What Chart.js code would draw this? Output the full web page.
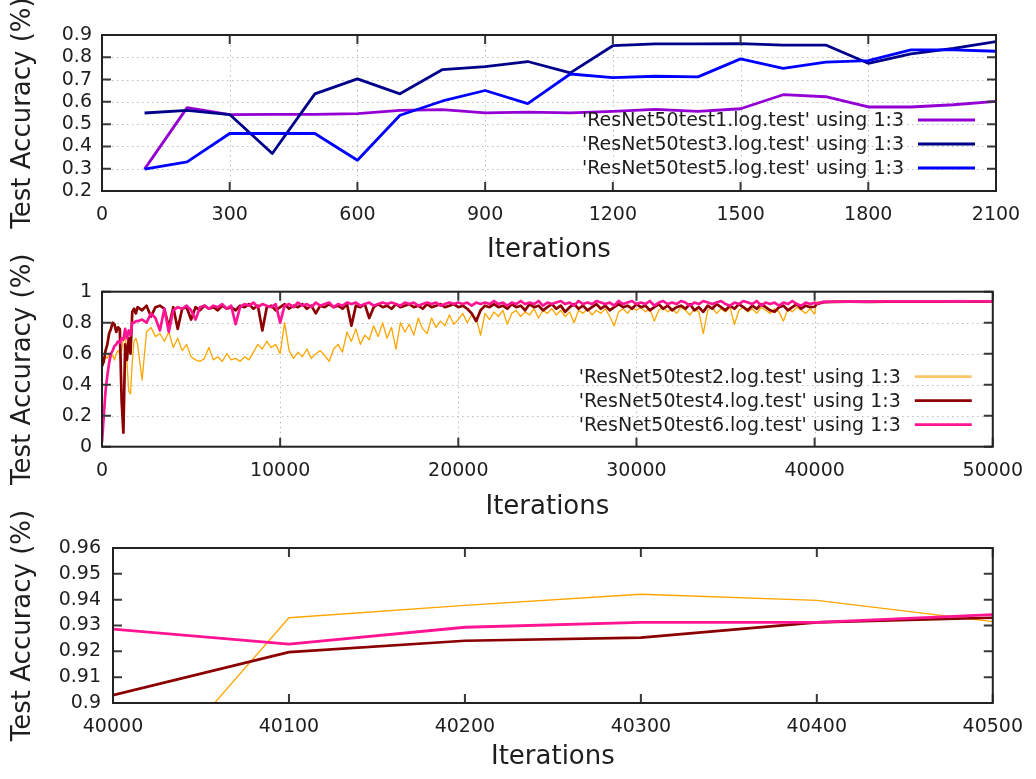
<!DOCTYPE html>
<html>
<head>
<meta charset="utf-8">
<title>ResNet50 test accuracy</title>
<script src="https://cdn.jsdelivr.net/npm/chart.js@4.4.1/dist/chart.umd.min.js"></script>
<style>
  html, body { margin: 0; padding: 0; background: #fff; }
  #wrap { position: relative; width: 1036px; height: 779px; overflow: hidden; }
  canvas { position: absolute; left: 0; }
</style>
</head>
<body>
<div id="wrap">
  <canvas id="c1" width="1036" height="270" style="top:0px"></canvas>
  <canvas id="c2" width="1036" height="275" style="top:250px"></canvas>
  <canvas id="c3" width="1036" height="274" style="top:505px"></canvas>
</div>
<script>
// ---- top panel: short runs ----
const shortIters = [100,200,300,400,500,600,700,800,900,1000,1100,1200,1300,1400,1500,1600,1700,1800,1900,2000,2100];
const test1 = [0.298,0.574,0.543,0.544,0.544,0.547,0.562,0.565,0.551,0.554,0.551,0.557,0.566,0.557,0.569,0.632,0.623,0.577,0.577,0.587,0.602];
const test3 = [0.55,0.562,0.543,0.368,0.636,0.703,0.636,0.745,0.758,0.781,0.73,0.852,0.86,0.86,0.861,0.855,0.855,0.773,0.815,0.84,0.87];
const test5 = [0.298,0.331,0.458,0.458,0.458,0.338,0.54,0.604,0.651,0.592,0.725,0.709,0.715,0.712,0.793,0.75,0.778,0.785,0.833,0.833,0.827];

// ---- middle panel: long runs ----
const longIters = [
  0,100,200,300,400,500,600,700,800,900,1000,1100,1200,1300,1400,1500,1600,1700,1800,1900,2000,
  2250,2500,2750,3000,3250,3500,3750,4000,
  4250,4500,4750,5000,5250,5500,5750,6000,
  6250,6500,6750,7000,7250,7500,7750,8000,
  8250,8500,8750,9000,9250,9500,9750,10000,
  10250,10500,10750,11000,11250,11500,11750,12000,
  12250,12500,12750,13000,13250,13500,13750,14000,
  14250,14500,14750,15000,15250,15500,15750,16000,
  16250,16500,16750,17000,17250,17500,17750,18000,
  18250,18500,18750,19000,19250,19500,19750,20000,
  20250,20500,20750,21000,21250,21500,21750,22000,
  22250,22500,22750,23000,23250,23500,23750,24000,
  24250,24500,24750,25000,25250,25500,25750,26000,
  26250,26500,26750,27000,27250,27500,27750,28000,
  28250,28500,28750,29000,29250,29500,29750,30000,
  30250,30500,30750,31000,31250,31500,31750,32000,
  32250,32500,32750,33000,33250,33500,33750,34000,
  34250,34500,34750,35000,35250,35500,35750,36000,
  36250,36500,36750,37000,37250,37500,37750,38000,
  38250,38500,38750,39000,39250,39500,39750,40000,
  40100,40500,41000,42000,43000,44000,45000,46000,47000,48000,49000,50000
];
const test2 = [
  0.51,0.55,0.58,0.57,0.6,0.58,0.59,0.56,0.6,0.62,0.6,0.62,0.7,0.75,0.55,0.36,0.34,0.55,0.68,0.7,0.66,
  0.43,0.74,0.77,0.71,0.73,0.68,0.74,0.64,
  0.7,0.62,0.66,0.58,0.56,0.55,0.57,0.64,
  0.56,0.58,0.55,0.6,0.56,0.57,0.55,0.58,
  0.56,0.61,0.66,0.63,0.68,0.64,0.66,0.6,
  0.8,0.62,0.57,0.61,0.58,0.63,0.57,0.6,
  0.62,0.59,0.55,0.63,0.66,0.61,0.74,0.68,
  0.76,0.66,0.72,0.69,0.78,0.71,0.8,0.7,
  0.77,0.63,0.8,0.74,0.79,0.72,0.83,0.76,
  0.73,0.83,0.77,0.81,0.78,0.85,0.79,0.82,
  0.86,0.8,0.85,0.83,0.72,0.86,0.82,0.87,
  0.84,0.88,0.79,0.86,0.88,0.84,0.87,0.85,
  0.89,0.83,0.88,0.86,0.89,0.85,0.88,0.84,
  0.87,0.8,0.88,0.86,0.89,0.85,0.88,0.86,
  0.89,0.84,0.78,0.87,0.89,0.86,0.9,0.88,
  0.9,0.87,0.89,0.81,0.88,0.9,0.87,0.89,
  0.86,0.9,0.88,0.85,0.89,0.87,0.73,0.88,
  0.9,0.86,0.89,0.87,0.9,0.79,0.88,0.9,
  0.87,0.89,0.86,0.9,0.88,0.86,0.89,0.87,
  0.81,0.89,0.87,0.9,0.88,0.86,0.89,0.855,
  0.933,0.9315,0.938,0.94,0.937,0.94,0.939,0.941,0.938,0.94,0.939,0.94
];
const test4 = [
  0.52,0.55,0.62,0.66,0.73,0.76,0.8,0.79,0.74,0.77,0.76,0.3,0.09,0.66,0.56,0.7,0.6,0.87,0.89,0.86,0.9,
  0.88,0.91,0.84,0.9,0.91,0.89,0.77,0.9,
  0.76,0.89,0.9,0.82,0.9,0.88,0.91,0.89,
  0.9,0.88,0.91,0.89,0.9,0.88,0.91,0.9,
  0.92,0.89,0.91,0.75,0.9,0.91,0.88,0.9,
  0.92,0.89,0.91,0.9,0.92,0.89,0.91,0.86,
  0.91,0.9,0.92,0.9,0.91,0.89,0.92,0.78,
  0.91,0.9,0.92,0.83,0.9,0.92,0.9,0.91,
  0.89,0.92,0.9,0.91,0.92,0.9,0.91,0.89,
  0.92,0.9,0.91,0.92,0.9,0.91,0.92,0.9,
  0.91,0.89,0.86,0.81,0.88,0.91,0.9,0.92,
  0.9,0.91,0.89,0.92,0.9,0.91,0.88,0.92,
  0.9,0.91,0.88,0.9,0.92,0.89,0.91,0.87,
  0.9,0.92,0.89,0.91,0.88,0.9,0.92,0.89,
  0.91,0.88,0.9,0.92,0.9,0.91,0.89,0.92,
  0.9,0.91,0.88,0.9,0.92,0.89,0.91,0.88,
  0.9,0.91,0.89,0.92,0.88,0.9,0.87,0.91,
  0.89,0.92,0.9,0.88,0.91,0.89,0.92,0.9,
  0.88,0.91,0.89,0.92,0.9,0.88,0.87,0.9,
  0.91,0.88,0.9,0.92,0.89,0.91,0.9,0.903,
  0.9197,0.933,0.934,0.935,0.934,0.936,0.935,0.937,0.936,0.937,0.936,0.937
];
const test6 = [
  0.03,0.2,0.36,0.46,0.54,0.6,0.62,0.65,0.66,0.68,0.67,0.7,0.69,0.76,0.7,0.75,0.72,0.8,0.8,0.81,0.81,
  0.82,0.8,0.86,0.83,0.75,0.89,0.74,0.88,
  0.9,0.89,0.91,0.88,0.82,0.9,0.91,0.89,
  0.91,0.9,0.92,0.89,0.91,0.79,0.9,0.92,
  0.91,0.93,0.9,0.92,0.91,0.9,0.92,0.8,
  0.91,0.92,0.9,0.93,0.91,0.92,0.9,0.93,
  0.91,0.92,0.93,0.9,0.92,0.91,0.93,0.92,
  0.93,0.91,0.92,0.93,0.91,0.92,0.93,0.92,
  0.93,0.92,0.91,0.93,0.92,0.93,0.91,0.92,
  0.93,0.92,0.93,0.91,0.92,0.93,0.92,0.93,
  0.92,0.93,0.91,0.93,0.92,0.93,0.92,0.94,
  0.92,0.93,0.91,0.93,0.92,0.94,0.92,0.93,
  0.92,0.94,0.91,0.93,0.92,0.93,0.94,0.92,
  0.93,0.91,0.94,0.92,0.93,0.92,0.94,0.93,
  0.92,0.93,0.91,0.94,0.92,0.93,0.94,0.92,
  0.93,0.92,0.94,0.91,0.93,0.94,0.92,0.93,
  0.92,0.94,0.93,0.91,0.93,0.92,0.94,0.93,
  0.92,0.93,0.94,0.92,0.91,0.93,0.92,0.94,
  0.93,0.92,0.94,0.91,0.93,0.92,0.93,0.91,
  0.93,0.92,0.94,0.92,0.91,0.93,0.92,0.929,
  0.9228,0.9342,0.935,0.937,0.936,0.938,0.937,0.938,0.937,0.938,0.938,0.938
];

// ---- bottom panel: zoom on 40000..40500 ----
const zoomIters = [40000,40100,40200,40300,40400,40500];
const zoom2 = [0.855,0.933,0.9378,0.9421,0.9397,0.9315];
const zoom4 = [0.903,0.9197,0.9241,0.9253,0.9312,0.933];
const zoom6 = [0.9286,0.9228,0.9293,0.9312,0.9312,0.9342];

// tick labels
const topXTicks = [0,300,600,900,1200,1500,1800,2100];
const topYTicks = [0.2,0.3,0.4,0.5,0.6,0.7,0.8,0.9];
const midXTicks = [0,10000,20000,30000,40000,50000];
const midYTicks = [0,0.2,0.4,0.6,0.8,1];
const lowXTicks = [40000,40100,40200,40300,40400,40500];
const lowYTicks = [0.9,0.91,0.92,0.93,0.94,0.95,0.96];

const ink = '#1e1e1e';
Chart.defaults.font.family = '"DejaVu Sans", sans-serif';
Chart.defaults.animation = false;

function pts(xs, ys) {
  return xs.map((x, i) => ({x: x, y: ys[i]}));
}

// gnuplot-like frame: dotted grid, inward mirrored ticks, border, key at top right
const gnuFrame = {
  id: 'gnuFrame',
  beforeDatasetsDraw(chart, args, opts) {
    if (!opts.grid) return;
    const {ctx, chartArea: a, scales: {x, y}} = chart;
    ctx.save();
    ctx.strokeStyle = '#bdbdbd';
    ctx.lineWidth = 1;
    ctx.setLineDash([1.5, 3.5]);
    x.ticks.forEach((t, i) => {
      if (i === 0 || i === x.ticks.length - 1) return;
      const px = Math.round(x.getPixelForValue(t.value)) + 0.5;
      ctx.beginPath(); ctx.moveTo(px, a.top); ctx.lineTo(px, a.bottom); ctx.stroke();
    });
    y.ticks.forEach((t, i) => {
      if (i === 0 || i === y.ticks.length - 1) return;
      const py = Math.round(y.getPixelForValue(t.value)) + 0.5;
      ctx.beginPath(); ctx.moveTo(a.left, py); ctx.lineTo(a.right, py); ctx.stroke();
    });
    ctx.restore();
  },
  afterDatasetsDraw(chart, args, opts) {
    const {ctx, chartArea: a, scales: {x, y}} = chart;
    const tl = 9;
    ctx.save();
    ctx.strokeStyle = '#383838';
    ctx.lineWidth = 2;
    ctx.beginPath();
    x.ticks.forEach(t => {
      const px = x.getPixelForValue(t.value);
      ctx.moveTo(px, a.bottom); ctx.lineTo(px, a.bottom - tl);
      ctx.moveTo(px, a.top); ctx.lineTo(px, a.top + tl);
    });
    y.ticks.forEach(t => {
      const py = y.getPixelForValue(t.value);
      ctx.moveTo(a.left, py); ctx.lineTo(a.left + tl, py);
      ctx.moveTo(a.right, py); ctx.lineTo(a.right - tl, py);
    });
    ctx.stroke();
    ctx.strokeStyle = '#222';
    ctx.strokeRect(a.left, a.top, a.right - a.left, a.bottom - a.top);

    if (opts.legend) {
      ctx.font = '19px "DejaVu Sans"';
      ctx.textAlign = 'right';
      ctx.textBaseline = 'middle';
      ctx.fillStyle = ink;
      chart.data.datasets.forEach((ds, i) => {
        const yy = a.top + 85 + i * 24;
        ctx.fillText(ds.label, a.right - 92, yy + 1);
        ctx.strokeStyle = ds.keyColor || ds.borderColor;
        ctx.lineWidth = ds.keyWidth || ds.borderWidth;
        ctx.beginPath(); ctx.moveTo(a.right - 78, yy); ctx.lineTo(a.right - 21, yy); ctx.stroke();
      });
    }
    ctx.restore();
  }
};

function frameScales(o) {
  return {
    x: {
      type: 'linear',
      min: o.xTicks[0],
      max: o.xTicks[o.xTicks.length - 1],
      afterBuildTicks: s => { s.ticks = o.xTicks.map(v => ({value: v})); },
      afterFit: s => { s.height = o.xHeight; },
      grid: {display: false, drawTicks: false},
      border: {display: false},
      ticks: {autoSkip: false, maxRotation: 0, padding: 13, color: ink, font: {size: 19}, callback: v => String(v)},
      title: {display: true, text: 'Iterations', color: ink, font: {size: 26}, padding: {top: 0, bottom: o.titlePad}}
    },
    y: {
      type: 'linear',
      min: o.yTicks[0],
      max: o.yTicks[o.yTicks.length - 1],
      afterBuildTicks: s => { s.ticks = o.yTicks.map(v => ({value: v})); },
      afterFit: s => { s.width = o.yWidth; },
      grid: {display: false, drawTicks: false},
      border: {display: false},
      ticks: {autoSkip: false, padding: o.yPad, color: ink, font: {size: 19}, callback: v => String(v)},
      title: {display: true, text: 'Test Accuracy (%)', color: ink, font: {size: 26}, padding: {top: 8, bottom: 0}}
    }
  };
}

function line(label, xs, ys, color, width, order, extra) {
  return Object.assign({
    label: label,
    data: pts(xs, ys),
    borderColor: color,
    backgroundColor: color,
    borderWidth: width,
    borderJoinStyle: 'round',
    pointRadius: 0,
    tension: 0,
    fill: false,
    order: order
  }, extra || {});
}

const commonPlugins = {legend: {display: false}, tooltip: {enabled: false}};

const chart1 = new Chart(document.getElementById('c1'), {
  type: 'line',
  data: {
    datasets: [
      line("'ResNet50test1.log.test' using 1:3", shortIters, test1, '#9400d3', 2.8, 3),
      line("'ResNet50test3.log.test' using 1:3", shortIters, test3, '#00008b', 2.8, 2),
      line("'ResNet50test5.log.test' using 1:3", shortIters, test5, '#0000ff', 2.8, 1)
    ]
  },
  options: {
    responsive: false,
    layout: {padding: {top: 35, right: 40, bottom: 0, left: 0}},
    scales: frameScales({xTicks: topXTicks, yTicks: topYTicks, xHeight: 79, yWidth: 102, yPad: 10, titlePad: 4.4}),
    plugins: Object.assign({gnuFrame: {grid: true, legend: true}}, commonPlugins)
  },
  plugins: [gnuFrame]
});

const chart2 = new Chart(document.getElementById('c2'), {
  type: 'line',
  data: {
    datasets: [
      line("'ResNet50test2.log.test' using 1:3", longIters, test2, '#ffa500', 1.3, 3, {keyColor: '#ffc66e', keyWidth: 2.8}),
      line("'ResNet50test4.log.test' using 1:3", longIters, test4, '#8b0000', 2.7, 2),
      line("'ResNet50test6.log.test' using 1:3", longIters, test6, '#ff1493', 2.7, 1)
    ]
  },
  options: {
    responsive: false,
    layout: {padding: {top: 41.7, right: 40, bottom: 0, left: 0}},
    scales: frameScales({xTicks: midXTicks, yTicks: midYTicks, xHeight: 78.3, yWidth: 102, yPad: 10, titlePad: 2.4}),
    plugins: Object.assign({gnuFrame: {grid: true, legend: true}}, commonPlugins)
  },
  plugins: [gnuFrame]
});

const chart3 = new Chart(document.getElementById('c3'), {
  type: 'line',
  data: {
    datasets: [
      line("'ResNet50test2.log.test' using 1:3", zoomIters, zoom2, '#ffa500', 1.3, 3),
      line("'ResNet50test4.log.test' using 1:3", zoomIters, zoom4, '#8b0000', 2.7, 2),
      line("'ResNet50test6.log.test' using 1:3", zoomIters, zoom6, '#ff1493', 2.9, 1)
    ]
  },
  options: {
    responsive: false,
    layout: {padding: {top: 43, right: 40, bottom: 0, left: 0}},
    scales: frameScales({xTicks: lowXTicks, yTicks: lowYTicks, xHeight: 76, yWidth: 113, yPad: 12, titlePad: 6.4}),
    plugins: Object.assign({gnuFrame: {grid: false, legend: false}}, commonPlugins)
  },
  plugins: [gnuFrame]
});
</script>
</body>
</html>
